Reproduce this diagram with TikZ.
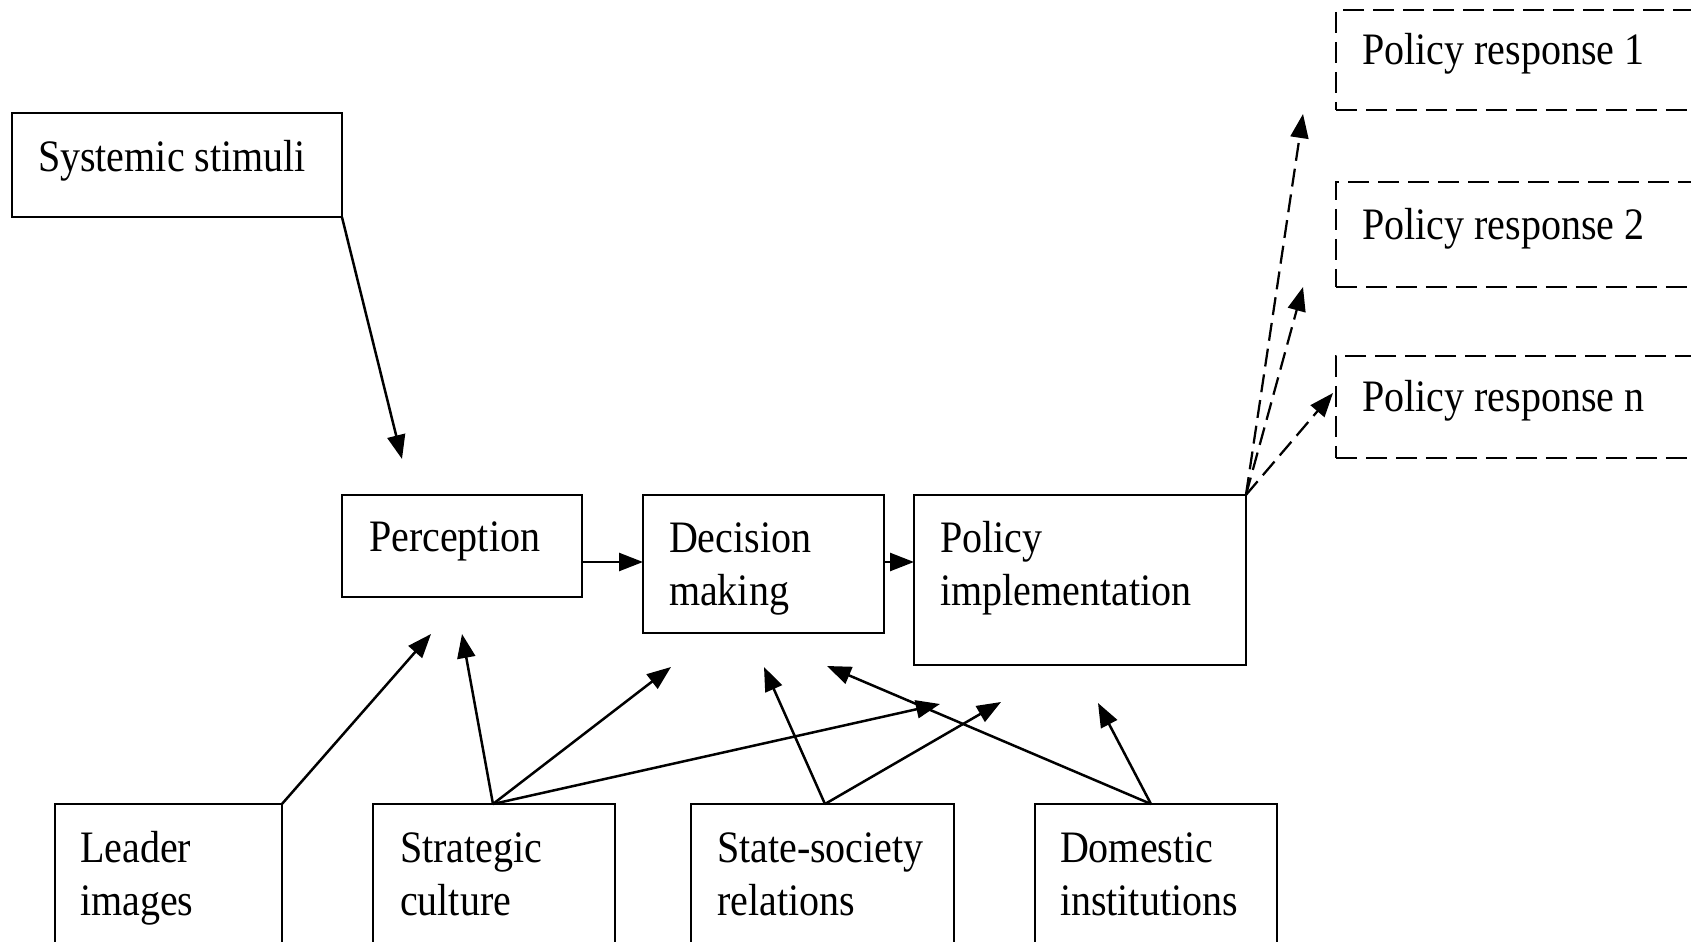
\documentclass[tikz,border=0pt]{standalone}
\usepackage{fontspec}
\setmainfont[FakeStretch=0.89]{Liberation Serif}
\usetikzlibrary{arrows.meta}
\tikzset{
  box/.style={draw=black, line width=0.055cm, inner sep=0pt, outer sep=0pt, anchor=north west},
  dbox/.style={draw=black, line width=0.045cm, dash pattern=on 0.42cm off 0.18cm, inner sep=0pt, outer sep=0pt, anchor=north west},
  txt/.style={inner sep=0pt, outer sep=0pt, anchor=base west, align=left, font=\fontsize{25.6pt}{29.6pt}\selectfont},
  arr/.style={draw=black, line width=0.05cm, -{Triangle[length=0.48cm, width=0.36cm]}},
  darr/.style={draw=black, line width=0.045cm, dash pattern=on 0.36cm off 0.16cm, -{Triangle[length=0.48cm, width=0.36cm]}}
}
\begin{document}
\begin{tikzpicture}[x=0.02cm, y=-0.02cm]
\useasboundingbox (0,0) rectangle (1691,942);
\clip (0,0) rectangle (1691,942);
\fill[white] (0,0) rectangle (1691,942);

% boxes
\node[box, minimum width=6.6cm, minimum height=2.08cm] (sys) at (12,113) {};
\node[box, minimum width=4.8cm, minimum height=2.04cm] (perc) at (342,495) {};
\node[box, minimum width=4.82cm, minimum height=2.76cm] (dec) at (643,495) {};
\node[box, minimum width=6.64cm, minimum height=3.4cm] (pol) at (914,495) {};
\node[dbox, minimum width=7.68cm, minimum height=2.0cm] (r1) at (1336,10) {};
\node[dbox, minimum width=7.68cm, minimum height=2.1cm] (r2) at (1336,182) {};
\node[dbox, minimum width=7.68cm, minimum height=2.04cm] (rn) at (1336,356) {};
\node[box, minimum width=4.54cm, minimum height=3.2cm] (lead) at (55,804) {};
\node[box, minimum width=4.84cm, minimum height=3.2cm] (strat) at (373,804) {};
\node[box, minimum width=5.26cm, minimum height=3.2cm] (state) at (691,804) {};
\node[box, minimum width=4.84cm, minimum height=3.2cm] (dom) at (1035,804) {};

% texts (multi-line nodes are anchored at the baseline of their last line)
\node[txt] (tsys) at (38,172) {Systemic stimuli};
\node[txt] (tperc) at (369,551) {Perception};
\node[txt] (tdec) at (669,605) {Decision\\making};
\node[txt] (tpol) at (940,605) {Policy\\implementation};
\node[txt] (tr1) at (1362,65) {Policy response 1};
\node[txt] (tr2) at (1362,240) {Policy response 2};
\node[txt] (trn) at (1362,412) {Policy response n};
\node[txt] (tlead) at (80,915) {Leader\\images};
\node[txt] (tstrat) at (400,915) {Strategic\\culture};
\node[txt] (tstate) at (717,915) {State-society\\relations};
\node[txt] (tdom) at (1060,915) {Domestic\\institutions};

% free ends
\coordinate (sysTip) at (402,459);
\coordinate (leadTip) at (431,634);
\coordinate (stratTipA) at (462,634);
\coordinate (stratTipB) at (671,667);
\coordinate (stratTipC) at (940,704);
\coordinate (stateTipA) at (764,667);
\coordinate (stateTipB) at (1001,702);
\coordinate (domTipA) at (827,666);
\coordinate (domTipB) at (1098,703);
\coordinate (r1Tip) at (1303,114);
\coordinate (r2Tip) at (1303,287);
\coordinate (rnTip) at (1333,393);
\coordinate (mainline) at (0,562);

% connectors
\draw[arr] (sys.south east) -- (sysTip);
\draw[arr] (perc.east |- mainline) -- (dec.west |- mainline);
\draw[arr] (dec.east |- mainline) -- (pol.west |- mainline);
\draw[darr] (pol.north east) -- (r1Tip);
\draw[darr] (pol.north east) -- (r2Tip);
\draw[darr] (pol.north east) -- (rnTip);
\draw[arr] (lead.north east) -- (leadTip);
\draw[arr] ([xshift=2.4cm]strat.north west) -- (stratTipA);
\draw[arr] ([xshift=2.4cm]strat.north west) -- (stratTipB);
\draw[arr] ([xshift=2.4cm]strat.north west) -- (stratTipC);
\draw[arr] ([xshift=2.68cm]state.north west) -- (stateTipA);
\draw[arr] ([xshift=2.68cm]state.north west) -- (stateTipB);
\draw[arr] ([xshift=2.32cm]dom.north west) -- (domTipA);
\draw[arr] ([xshift=2.32cm]dom.north west) -- (domTipB);
\end{tikzpicture}
\end{document}
